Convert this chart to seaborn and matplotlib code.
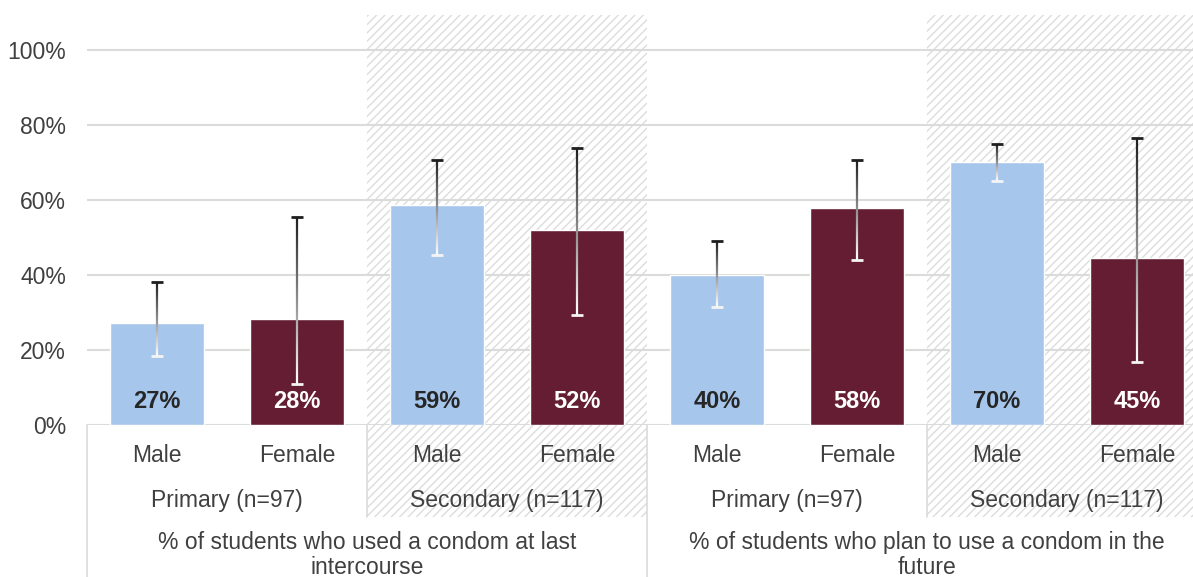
import numpy as np
import pandas as pd
import matplotlib
matplotlib.use("Agg")
import matplotlib.pyplot as plt
import seaborn as sns
from matplotlib.patches import Rectangle
from matplotlib.collections import LineCollection
from matplotlib.colors import to_rgb

# data
measures = ["% of students who used a condom at last\nintercourse",
            "% of students who plan to use a condom in the\nfuture"]
schools = ["Primary (n=97)", "Secondary (n=117)"]
sexes = ["Male", "Female"]
values = [27.3, 28.3, 58.6, 52.0, 40.0, 57.9, 70.1, 44.6]
err_lo = [18.4, 11.0, 45.3, 29.4, 31.6, 44.0, 65.1, 16.7]
err_hi = [38.2, 55.5, 70.8, 73.9, 49.1, 70.8, 75.0, 76.4]

blue = "#a6c6ec"
maroon = "#641d32"
txt = "#404040"
grid_c = "#d9dcd9"

rows = []
for m in measures:
    for s in schools:
        for x in sexes:
            rows.append({"slot": f"{m}|{s}|{x}", "sex": x})
df = pd.DataFrame(rows)
df["value"] = values
slots = list(df["slot"])

sns.set_style("white")
plt.rcParams["font.family"] = ["Liberation Sans", "DejaVu Sans"]
plt.rcParams["hatch.linewidth"] = 1.0

fig = plt.figure(figsize=(11.93, 5.77), dpi=100)
# plot area: x 87..1207 px (cropped on the right), y 15..425 px
ax = fig.add_axes([87 / 1193, 152 / 577, 1120 / 1193, 410 / 577])

sns.barplot(data=df, x="slot", y="value", hue="sex", order=slots,
            palette={"Male": blue, "Female": maroon}, dodge=False,
            width=0.667, saturation=1, legend=False, ax=ax, zorder=2)

ax.set_xlim(-0.5, 7.5)
ax.set_ylim(0, 410 / 3.75)
ax.set_yticks(range(0, 101, 20))
ax.set_yticklabels([f"{t}%" for t in range(0, 101, 20)], fontsize=16.5, color=txt)
ax.tick_params(axis="y", length=0, pad=15)
ax.tick_params(axis="x", length=0)
ax.set_xticklabels([])
ax.set_xlabel("")
ax.set_ylabel("")
for sp in ax.spines.values():
    sp.set_visible(False)
ax.set_axisbelow(True)
ax.yaxis.grid(True, color=grid_c, lw=1.5)

trans = ax.get_xaxis_transform()
label_bottom = -92 / 410
fig_bottom = -152 / 410

# hatched background behind the secondary-school groups
for x0 in [1.5, 5.5]:
    ax.add_patch(Rectangle((x0, label_bottom), 2, 1 - label_bottom, transform=trans,
                           facecolor="white", edgecolor="#dcdcdc", hatch="////",
                           lw=0, clip_on=False, zorder=0.1))

# category box lines
for x0, y0 in [(-0.5, fig_bottom), (3.5, fig_bottom), (1.5, label_bottom), (5.5, label_bottom)]:
    ax.plot([x0, x0], [0, y0], transform=trans, color=grid_c, lw=1.2, clip_on=False)

# gradient error bars (dark at top, fading to white)
dark = np.array(to_rgb("#1e1e1e"))
white = np.array([1.0, 1.0, 1.0])
n = 80
for i in range(len(values)):
    ys = np.linspace(err_hi[i], err_lo[i], n + 1)
    segs = [[(i, ys[k]), (i, ys[k + 1])] for k in range(n)]
    cols = [dark + (white - dark) * (k / (n - 1)) for k in range(n)]
    ax.add_collection(LineCollection(segs, colors=cols, linewidths=1.6, zorder=3))
    ax.plot([i - 0.043, i + 0.043], [err_hi[i]] * 2, color=dark, lw=2, zorder=3,
            solid_capstyle="butt")
    ax.plot([i - 0.043, i + 0.043], [err_lo[i]] * 2, color="#f4f4f4", lw=2, zorder=3,
            solid_capstyle="butt")

# value labels inside bars
for i, v in enumerate(values):
    c = "#262626" if df["sex"][i] == "Male" else "white"
    ax.text(i, 6.2, f"{v:.0f}%", ha="center", va="center", fontsize=17,
            fontweight="bold", color=c, zorder=4)

# multi-level category labels
for i, s in enumerate(df["sex"]):
    ax.text(i, -31 / 410, s, transform=trans, ha="center", va="center",
            fontsize=16.5, color=txt)
for j in range(4):
    ax.text(2 * j + 0.5, -75 / 410, schools[j % 2], transform=trans, ha="center",
            va="center", fontsize=16.5, color=txt)
for j, m in enumerate(measures):
    ax.text(4 * j + 1.5, -130 / 410, m, transform=trans, ha="center", va="center",
            fontsize=16.5, color=txt, linespacing=1.1)

fig.savefig("out.png", dpi=100)
